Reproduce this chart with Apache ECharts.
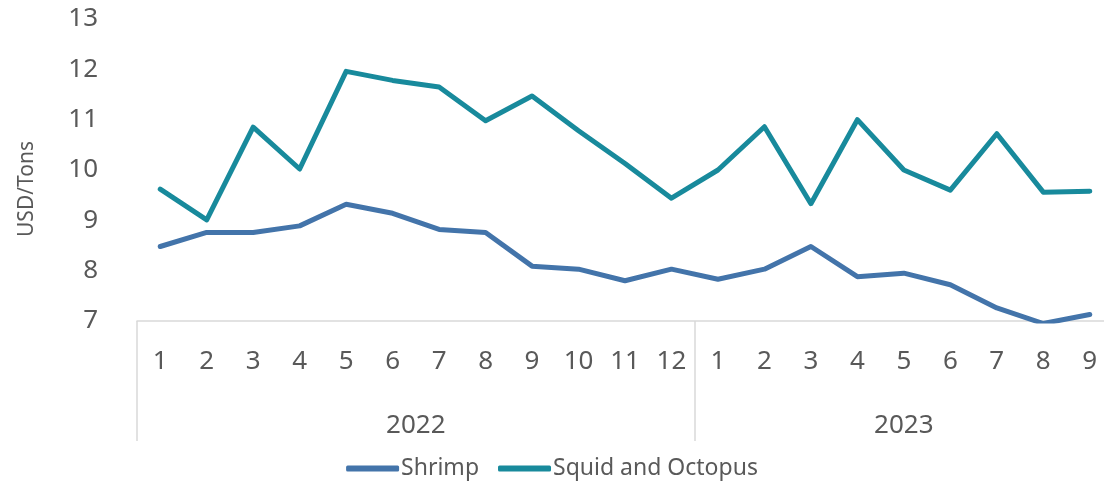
<!DOCTYPE html>
<html>
    <head>
        <meta charset="utf-8">
        <script src="https://cdn.jsdelivr.net/npm/echarts@6/dist/echarts.min.js"></script>
        <style type="text/css">
            #main {height:482px;width:1104px;position:absolute;}
            body {margin:0px;padding:0px;overflow:hidden;background:#fff;}
        </style>
    </head>
    <body>
        <div id="main"></div>
        <script type="text/javascript">
            // months across two years
            let months = ['1','2','3','4','5','6','7','8','9','10','11','12','1','2','3','4','5','6','7','8','9'];
            let years = ['2022', '2023'];
            let yearStart = [0, 12, 21];   // category boundaries of each year
            let shrimp = [8.48,8.76,8.76,8.89,9.32,9.14,8.82,8.76,8.09,8.03,7.80,8.03,7.83,8.03,8.48,7.88,7.95,7.72,7.26,6.95,7.13];
            let squid  = [9.62,9.01,10.85,10.02,11.96,11.78,11.65,10.98,11.47,10.78,10.13,9.44,10.0,10.86,9.33,11.0,10.0,9.60,10.72,9.56,9.58];

            let grey = '#595959';
            let myChart = echarts.init(document.getElementById('main'));

            // year label sits in the middle of its block of months
            let yearMid = [];
            for(let i=0;i<years.length;i++){
                yearMid.push((yearStart[i]+yearStart[i+1])/2);
            }

            let option = {
                animation: false,
                legend: {
                    data: ['Shrimp', 'Squid and Octopus'],
                    top: 452,
                    left: 'center',
                    icon: 'roundRect',
                    itemWidth: 53,
                    itemHeight: 6,
                    itemGap: 19,
                    textStyle: {color: grey, fontSize: 23, fontFamily: 'Noto Sans', padding: [0,0,0,-3]}
                },
                grid: {left: 137, right: -9, top: 19, bottom: 161, outerBoundsMode: 'none', containLabel: false},
                xAxis: [
                    {
                        type: 'category',
                        data: months,
                        boundaryGap: true,
                        axisLine: {show: true, lineStyle: {color: '#d9d9d9', width: 1.5}},
                        axisTick: {show: false},
                        axisLabel: {color: grey, fontSize: 26, margin: 28, interval: 0,
                                    fontFamily: '"Liberation Sans Narrow", "Noto Sans"'}
                    },
                    {
                        type: 'value',
                        min: 0,
                        max: 21,
                        position: 'bottom',
                        axisLine: {show: false},
                        splitLine: {show: false},
                        axisTick: {show: true, customValues: yearStart, length: 120,
                                   lineStyle: {color: '#d9d9d9', width: 1.5}},
                        axisLabel: {
                            customValues: yearMid,
                            color: grey, fontSize: 26, margin: 92, fontFamily: 'Noto Sans',
                            formatter: function(v){
                                let i = yearMid.indexOf(v);
                                return i >= 0 ? years[i] : '';
                            }
                        }
                    }
                ],
                yAxis: {
                    type: 'value',
                    min: 7,
                    max: 13,
                    interval: 1,
                    name: 'USD/Tons',
                    nameLocation: 'middle',
                    nameGap: 99,
                    nameTextStyle: {color: grey, fontSize: 21, fontFamily: 'Noto Sans', padding: [0, 38, 0, 0]},
                    axisLine: {show: false},
                    axisTick: {show: false},
                    splitLine: {show: false},
                    axisLabel: {color: grey, fontSize: 26, margin: 39, fontFamily: 'Noto Sans'}
                },
                series: [
                    {
                        name: 'Shrimp',
                        type: 'line',
                        data: shrimp,
                        symbol: 'none',
                        lineStyle: {width: 5, color: '#4374aa', cap: 'round', join: 'round'},
                        itemStyle: {color: '#4374aa'}
                    },
                    {
                        name: 'Squid and Octopus',
                        type: 'line',
                        data: squid,
                        symbol: 'none',
                        lineStyle: {width: 5, color: '#188a9c', cap: 'round', join: 'round'},
                        itemStyle: {color: '#188a9c'}
                    }
                ]
            };
            myChart.setOption(option);
            window.onresize = myChart.resize;
        </script>
    </body>
</html>
